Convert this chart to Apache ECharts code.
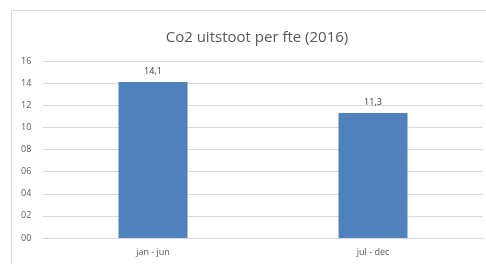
<!DOCTYPE html>
<html>
<head>
<meta charset="utf-8">
<script src="https://cdn.jsdelivr.net/npm/echarts@6/dist/echarts.min.js"></script>
<style>
  html, body { margin: 0; padding: 0; background: #fff; }
  #main { width: 486px; height: 264px; }
</style>
</head>
<body>
<div id="main"></div>
<script>
var categories = ["jan - jun", "jul - dec"];
var values = [14.1, 11.3];

var myChart = echarts.init(document.getElementById("main"));

const option = {
  animation: false,
  title: {
    text: "Co2 uitstoot per fte (2016)",
    left: 252,
    textAlign: "center",
    top: 25,
    textStyle: {
      fontFamily: "Open Sans",
      fontSize: 15,
      fontWeight: "normal",
      color: "#595959"
    }
  },
  graphic: [
    {
      type: "rect",
      shape: { x: 11.5, y: 10.5, width: 490, height: 270 },
      style: { fill: "none", stroke: "#d9d9d9", lineWidth: 1 },
      silent: true
    }
  ],
  grid: {
    left: 43,
    right: 3,
    top: 61,
    bottom: 26
  },
  xAxis: {
    type: "category",
    data: categories,
    axisLine: { lineStyle: { color: "#d9d9d9" } },
    axisTick: { show: false },
    axisLabel: {
      color: "#595959",
      fontFamily: "Open Sans",
      fontSize: 9,
      margin: 10
    }
  },
  yAxis: {
    type: "value",
    min: 0,
    max: 16,
    interval: 2,
    axisLine: { show: false },
    axisTick: { show: false },
    splitLine: { lineStyle: { color: "#d9d9d9" } },
    axisLabel: {
      color: "#595959",
      fontFamily: "Open Sans",
      fontSize: 9,
      margin: 11,
      align: "left",
      padding: [0, 0, 0, -11],
      formatter: function (v) {
        return (v < 10 ? "0" : "") + v;
      }
    }
  },
  series: [
    {
      type: "bar",
      data: values,
      barWidth: 69,
      itemStyle: { color: "#4f81bd" },
      label: {
        show: true,
        position: "top",
        color: "#404040",
        fontFamily: "Open Sans",
        fontSize: 9,
        distance: 6,
        formatter: function (p) {
          return String(p.value).replace(".", ",");
        }
      }
    }
  ]
};

myChart.setOption(option);
</script>
</body>
</html>
